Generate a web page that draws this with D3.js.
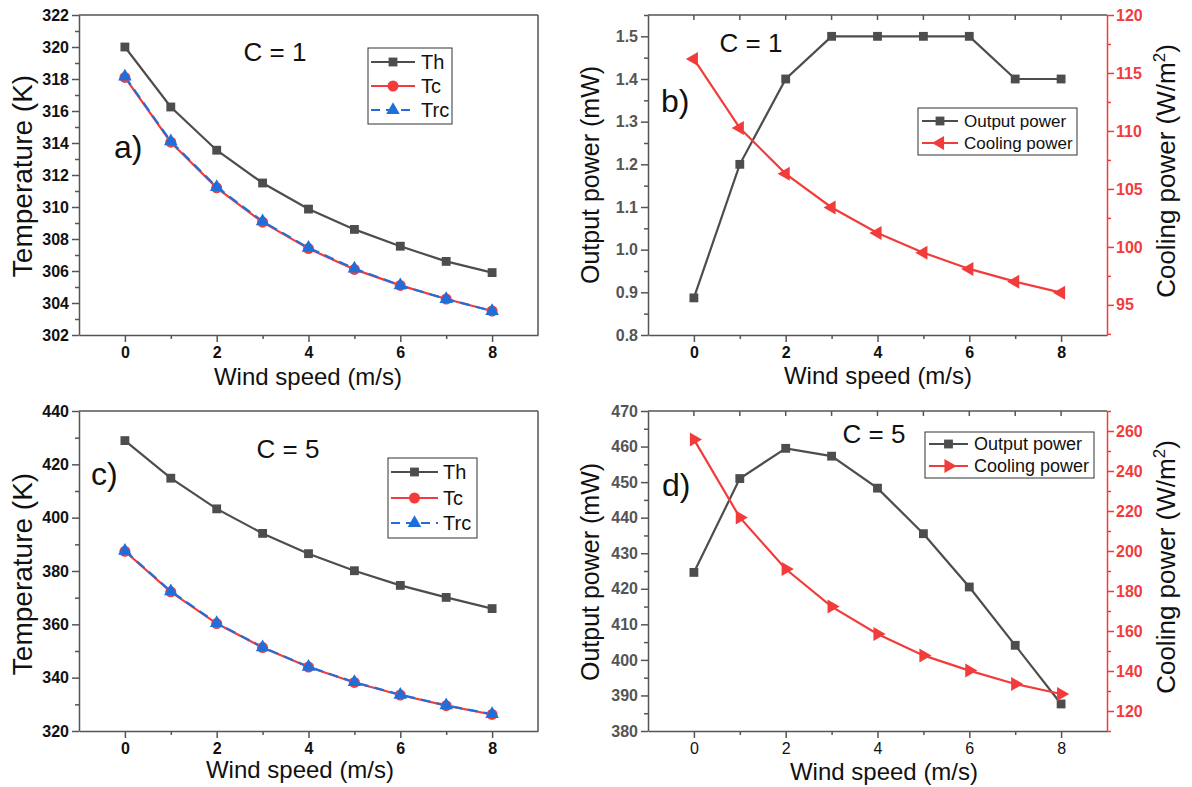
<!DOCTYPE html>
<html>
<head>
<script src="https://d3js.org/d3.v7.min.js"></script>
<style>
  body { margin: 0; background: #fff; }
  svg text { font-family: "Liberation Sans", Arial, sans-serif; }
</style>
</head>
<body>
<svg id="chart" width="1192" height="787"></svg>
<script>
const windSpeed = [0, 1, 2, 3, 4, 5, 6, 7, 8];

// C = 1
const thC1 = [320.0, 316.25, 313.55, 311.5, 309.87, 308.6, 307.55, 306.6, 305.9];
const tcC1 = [318.1, 314.05, 311.2, 309.05, 307.4, 306.1, 305.1, 304.25, 303.5];
const trcC1 = [318.15, 314.1, 311.25, 309.1, 307.45, 306.15, 305.1, 304.25, 303.5];
const outputC1 = [0.887, 1.2, 1.4, 1.5, 1.5, 1.5, 1.5, 1.4, 1.4];
const coolingC1 = [116.2, 110.25, 106.3, 103.4, 101.2, 99.5, 98.1, 97.0, 96.05];

// C = 5
const thC5 = [428.9, 414.8, 403.3, 394.1, 386.5, 380.1, 374.6, 370.1, 365.9];
const tcC5 = [387.4, 372.2, 360.3, 351.3, 344.0, 338.2, 333.5, 329.5, 326.2];
const trcC5 = [387.6, 372.4, 360.5, 351.4, 344.1, 338.3, 333.6, 329.6, 326.3];
const outputC5 = [424.6, 451.0, 459.5, 457.3, 448.3, 435.5, 420.5, 404.1, 387.6];
const coolingC5 = [255.8, 216.8, 191.0, 172.2, 158.5, 147.8, 140.2, 133.5, 128.5];

const xMajor = [0, 2, 4, 6, 8];
const xMinor = [1, 3, 5, 7];
const xAll = [0, 1, 2, 3, 4, 5, 6, 7, 8];

const tempC1Major = [302, 304, 306, 308, 310, 312, 314, 316, 318, 320, 322];
const tempC1Minor = [303, 305, 307, 309, 311, 313, 315, 317, 319, 321];
const outC1Major = [0.8, 0.9, 1.0, 1.1, 1.2, 1.3, 1.4, 1.5];
const outC1Minor = [0.85, 0.95, 1.05, 1.15, 1.25, 1.35, 1.45, 1.55];
const coolC1Major = [95, 100, 105, 110, 115, 120];
const coolC1Minor = [92.5, 97.5, 102.5, 107.5, 112.5, 117.5];

const tempC5Major = [320, 340, 360, 380, 400, 420, 440];
const tempC5Minor = [330, 350, 370, 390, 410, 430];
const outC5Major = [380, 390, 400, 410, 420, 430, 440, 450, 460, 470];
const outC5Minor = [385, 395, 405, 415, 425, 435, 445, 455, 465];
const coolC5Major = [120, 140, 160, 180, 200, 220, 240, 260];
const coolC5Minor = [110, 130, 150, 170, 190, 210, 230, 250, 270];

const GREY = '#4d4d4d';
const RED = '#f23c3c';
const BLUE = '#1f6fdb';
const AXIS = '#555';
const FONT = '"Liberation Sans", Arial, sans-serif';

const svg = d3.select('#chart');

function styleAxis(g, color, textColor, bold, size) {
  g.attr('font-family', FONT);
  g.select('.domain').attr('stroke', color).attr('stroke-width', 1.5);
  g.selectAll('.tick line').attr('stroke', color).attr('stroke-width', 1.5);
  g.selectAll('.tick text')
    .attr('fill', textColor)
    .style('font-size', size + 'px')
    .style('font-weight', bold ? 'bold' : 'normal');
}

function addAxis(axisFn, scale, major, minor, fmt, tx, ty, color, textColor, bold, pad) {
  const gMin = svg.append('g').attr('transform', `translate(${tx},${ty})`)
    .call(axisFn(scale).tickValues(minor).tickSize(4).tickSizeOuter(0).tickFormat(''));
  gMin.select('.domain').remove();
  gMin.selectAll('.tick line').attr('stroke', color).attr('stroke-width', 1.5);
  const g = svg.append('g').attr('transform', `translate(${tx},${ty})`)
    .call(axisFn(scale).tickValues(major).tickSize(7).tickSizeOuter(0).tickPadding(pad).tickFormat(fmt));
  styleAxis(g, color, textColor, bold, 16);
}

function marker(sel, type, color, size, x, y) {
  const sym = { square: d3.symbolSquare, circle: d3.symbolCircle,
                triUp: d3.symbolTriangle, triLeft: d3.symbolTriangle, triRight: d3.symbolTriangle }[type];
  const rot = type === 'triLeft' ? -90 : (type === 'triRight' ? 90 : 0);
  sel.append('path')
    .attr('d', d3.symbol().type(sym).size(size)())
    .attr('transform', `translate(${x},${y}) rotate(${rot})`)
    .attr('fill', color);
}

function drawPanel(cfg) {
  const x = d3.scaleLinear().domain([-1, 9]).range([cfg.x0, cfg.x1]);
  const yL = d3.scaleLinear().domain(cfg.left.domain).range([cfg.y1, cfg.y0]);
  const yR = cfg.right ? d3.scaleLinear().domain(cfg.right.domain).range([cfg.y1, cfg.y0]) : null;

  // frame
  svg.append('line').attr('x1', cfg.x0).attr('x2', cfg.x1).attr('y1', cfg.y0).attr('y2', cfg.y0)
    .attr('stroke', AXIS).attr('stroke-width', 1.5);
  if (!cfg.right) {
    svg.append('line').attr('x1', cfg.x1).attr('x2', cfg.x1).attr('y1', cfg.y0).attr('y2', cfg.y1)
      .attr('stroke', AXIS).attr('stroke-width', 1.5);
  }
  if (cfg.topTicks) {
    svg.append('g').selectAll('line').data(xAll).join('line')
      .attr('x1', d => x(d)).attr('x2', d => x(d))
      .attr('y1', cfg.y0).attr('y2', cfg.y0 + 5)
      .attr('stroke', AXIS).attr('stroke-width', 1.5);
  }

  // axes
  addAxis(d3.axisBottom, x, xMajor, xMinor, d3.format('d'), 0, cfg.y1, AXIS, '#111', cfg.xBold, 5);
  addAxis(d3.axisLeft, yL, cfg.left.major, cfg.left.minor, cfg.left.fmt, cfg.x0, 0, AXIS, cfg.left.textColor, true, 3);
  if (cfg.right) {
    addAxis(d3.axisRight, yR, cfg.right.major, cfg.right.minor, d3.format('d'), cfg.x1, 0, RED, RED, true, 2);
  }

  // series
  cfg.series.forEach(s => {
    const ys = s.axis === 'right' ? yR : yL;
    svg.append('path')
      .datum(s.values)
      .attr('d', d3.line().x((d, i) => x(windSpeed[i])).y(d => ys(d)))
      .attr('fill', 'none')
      .attr('stroke', s.color)
      .attr('stroke-width', 2.2)
      .attr('stroke-dasharray', s.dash || null);
  });
  cfg.series.forEach(s => {
    const ys = s.axis === 'right' ? yR : yL;
    const g = svg.append('g');
    s.values.forEach((v, i) => marker(g, s.marker, s.color, s.size, x(windSpeed[i]), ys(v)));
  });

  // legend
  const L = cfg.legend;
  svg.append('rect').attr('x', L.x).attr('y', L.y).attr('width', L.w).attr('height', L.h)
    .attr('fill', '#fff').attr('stroke', '#333').attr('stroke-width', 1);
  cfg.series.forEach((s, i) => {
    const ly = L.rows[i];
    svg.append('line').attr('x1', L.lx0).attr('x2', L.lx1).attr('y1', ly).attr('y2', ly)
      .attr('stroke', s.color).attr('stroke-width', 2.2)
      .attr('stroke-dasharray', s.dash ? '9,6' : null);
    marker(svg, s.marker, s.color, s.size, (L.lx0 + L.lx1) / 2, ly);
    svg.append('text').attr('x', L.tx).attr('y', ly).attr('dy', '0.36em')
      .style('font-size', L.size + 'px').attr('fill', '#111').text(s.name);
  });

  // annotations
  svg.append('text').attr('x', cfg.cLabel[0]).attr('y', cfg.cLabel[1])
    .attr('text-anchor', 'middle').style('font-size', '26px').attr('fill', '#111').text(cfg.cText);
  svg.append('text').attr('x', cfg.pLabel[0]).attr('y', cfg.pLabel[1])
    .style('font-size', '32px').attr('fill', '#111').text(cfg.pText);

  // axis titles
  svg.append('text').attr('x', cfg.xTitle[0]).attr('y', cfg.xTitle[1])
    .attr('text-anchor', 'middle').style('font-size', '24px').attr('fill', '#111').text('Wind speed (m/s)');
  svg.append('text')
    .attr('transform', `translate(${cfg.yTitle[0]},${cfg.yTitle[1]}) rotate(-90)`)
    .attr('text-anchor', 'middle').style('font-size', cfg.yTitle[2] + 'px').attr('fill', '#111')
    .text(cfg.yTitle[3]);
  if (cfg.right) {
    const t = svg.append('text')
      .attr('transform', `translate(${cfg.rTitle[0]},${cfg.rTitle[1]}) rotate(-90)`)
      .attr('text-anchor', 'middle').style('font-size', '26px').attr('fill', '#111');
    t.append('tspan').text('Cooling power (W/m');
    t.append('tspan').attr('dy', -10).style('font-size', '17px').text('2');
    t.append('tspan').attr('dy', 10).text(')');
  }
}

const tempSeries = (th, tc, trc) => [
  { name: 'Th', values: th, color: GREY, marker: 'square', size: 78 },
  { name: 'Tc', values: tc, color: RED, marker: 'circle', size: 95 },
  { name: 'Trc', values: trc, color: BLUE, marker: 'triUp', size: 80, dash: '10,6' }
];

drawPanel({
  x0: 79, x1: 538, y0: 15, y1: 335, xBold: true,
  left: { domain: [302, 322], major: tempC1Major, minor: tempC1Minor, fmt: d3.format('d'), textColor: '#111' },
  series: tempSeries(thC1, tcC1, trcC1),
  legend: { x: 368, y: 48, w: 84, h: 76, rows: [62, 86, 110], lx0: 371, lx1: 415, tx: 421, size: 20 },
  cText: 'C = 1', cLabel: [275, 61], pText: 'a)', pLabel: [114, 158],
  xTitle: [308, 385], yTitle: [32, 176, 28, 'Temperature (K)']
});

drawPanel({
  x0: 79, x1: 538, y0: 411, y1: 731, xBold: true,
  left: { domain: [320, 440], major: tempC5Major, minor: tempC5Minor, fmt: d3.format('d'), textColor: '#111' },
  series: tempSeries(thC5, tcC5, trcC5),
  legend: { x: 388, y: 458, w: 89, h: 80, rows: [472, 498, 523], lx0: 391, lx1: 438, tx: 443, size: 20 },
  cText: 'C = 5', cLabel: [288, 458], pText: 'c)', pLabel: [91, 485],
  xTitle: [300, 778], yTitle: [32, 574, 28, 'Temperature (K)']
});

drawPanel({
  x0: 648, x1: 1107, y0: 15, y1: 335, xBold: true, topTicks: true,
  left: { domain: [0.8, 1.55], major: outC1Major, minor: outC1Minor, fmt: d3.format('.1f'), textColor: '#555' },
  right: { domain: [92.4, 120], major: coolC1Major, minor: coolC1Minor },
  series: [
    { name: 'Output power', values: outputC1, color: GREY, marker: 'square', size: 78 },
    { name: 'Cooling power', values: coolingC1, color: RED, marker: 'triLeft', size: 85, axis: 'right' }
  ],
  legend: { x: 918, y: 108, w: 159, h: 47, rows: [121, 143], lx0: 922, lx1: 958, tx: 964, size: 17 },
  cText: 'C = 1', cLabel: [751, 52], pText: 'b)', pLabel: [661, 112],
  xTitle: [878, 384], yTitle: [599, 175, 25, 'Output power (mW)'], rTitle: [1175, 171]
});

drawPanel({
  x0: 648, x1: 1107, y0: 411, y1: 731, xBold: false, topTicks: true,
  left: { domain: [380, 470], major: outC5Major, minor: outC5Minor, fmt: d3.format('d'), textColor: '#555' },
  right: { domain: [110, 270], major: coolC5Major, minor: coolC5Minor },
  series: [
    { name: 'Output power', values: outputC5, color: GREY, marker: 'square', size: 78 },
    { name: 'Cooling power', values: coolingC5, color: RED, marker: 'triRight', size: 85, axis: 'right' }
  ],
  legend: { x: 925, y: 432, w: 169, h: 46, rows: [444, 466], lx0: 929, lx1: 968, tx: 974, size: 18 },
  cText: 'C = 5', cLabel: [874, 443], pText: 'd)', pLabel: [662, 496],
  xTitle: [884, 780], yTitle: [599, 572, 25, 'Output power (mW)'], rTitle: [1175, 567]
});
</script>
</body>
</html>
